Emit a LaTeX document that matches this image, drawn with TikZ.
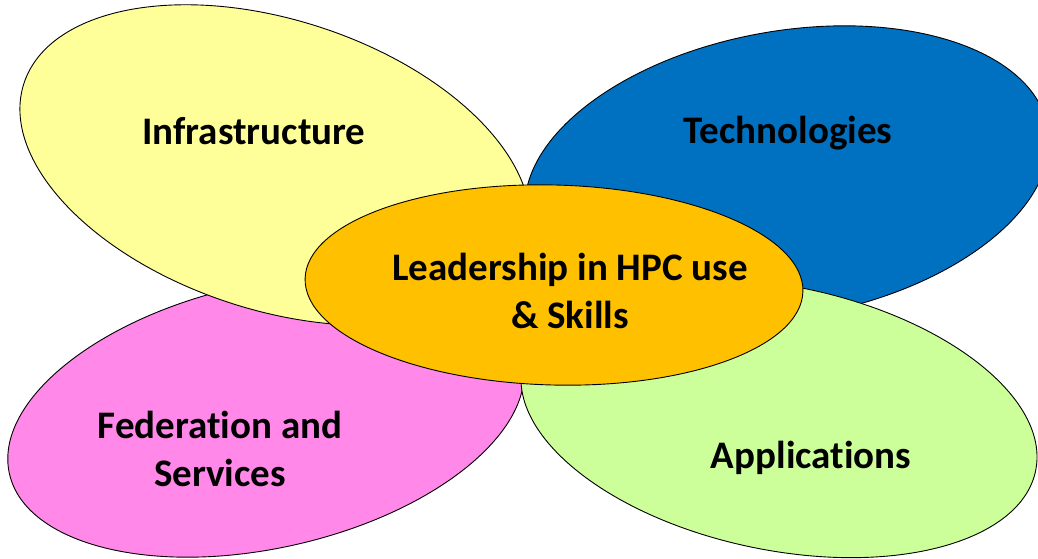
\documentclass[tikz,border=0pt]{standalone}
\usepackage{fontspec}
\setmainfont[Ligatures=NoCommon]{Carlito}
\usetikzlibrary{shapes.geometric}
\definecolor{cyellow}{HTML}{FFFF99}
\definecolor{cblue}{HTML}{0070C0}
\definecolor{cpink}{HTML}{FF88E8}
\definecolor{cgreen}{HTML}{CCFF99}
\definecolor{corange}{HTML}{FFC000}
\begin{document}
\begin{tikzpicture}[x=1pt,y=-1pt,
  petal/.style={ellipse, draw=black, line width=0.9pt, inner sep=0pt, outer sep=0pt},
  lbl/.style={font=\bfseries\fontsize{39}{47.5}\selectfont, text=black, align=center, inner sep=0pt, anchor=base}]
\useasboundingbox (0,0) rectangle (1038,558);
\fill[white] (0,0) rectangle (1038,558);
\begin{scope}
\clip (0,0) rectangle (1038,558);
\node[petal, fill=cblue, minimum width=530pt, minimum height=286pt, rotate=10] (tech) at (787,174) {};
\node[petal, fill=cpink, minimum width=526pt, minimum height=264pt, rotate=12.7] (fed) at (266,416) {};
\node[petal, fill=cyellow, minimum width=528pt, minimum height=290pt, rotate=-18] (infra) at (275,165) {};
\node[petal, fill=cgreen, minimum width=524pt, minimum height=264pt, rotate=-11.6] (app) at (779,418) {};
\node[petal, fill=corange, minimum width=498pt, minimum height=200pt, rotate=-1.5] (lead) at (554,285) {};
\end{scope}
\node[lbl] (tinfra) at (254,144) {Infrastructure};
\node[lbl] (ttech) at (788,143) {Technologies};
\node[lbl] (tlead) at (570,328) {Leadership in HPC use\\\& Skills};
\node[lbl] (tfed) at (220,486) {Federation and\\Services};
\node[lbl] (tapp) at (811,468) {Applications};
\end{tikzpicture}
\end{document}
